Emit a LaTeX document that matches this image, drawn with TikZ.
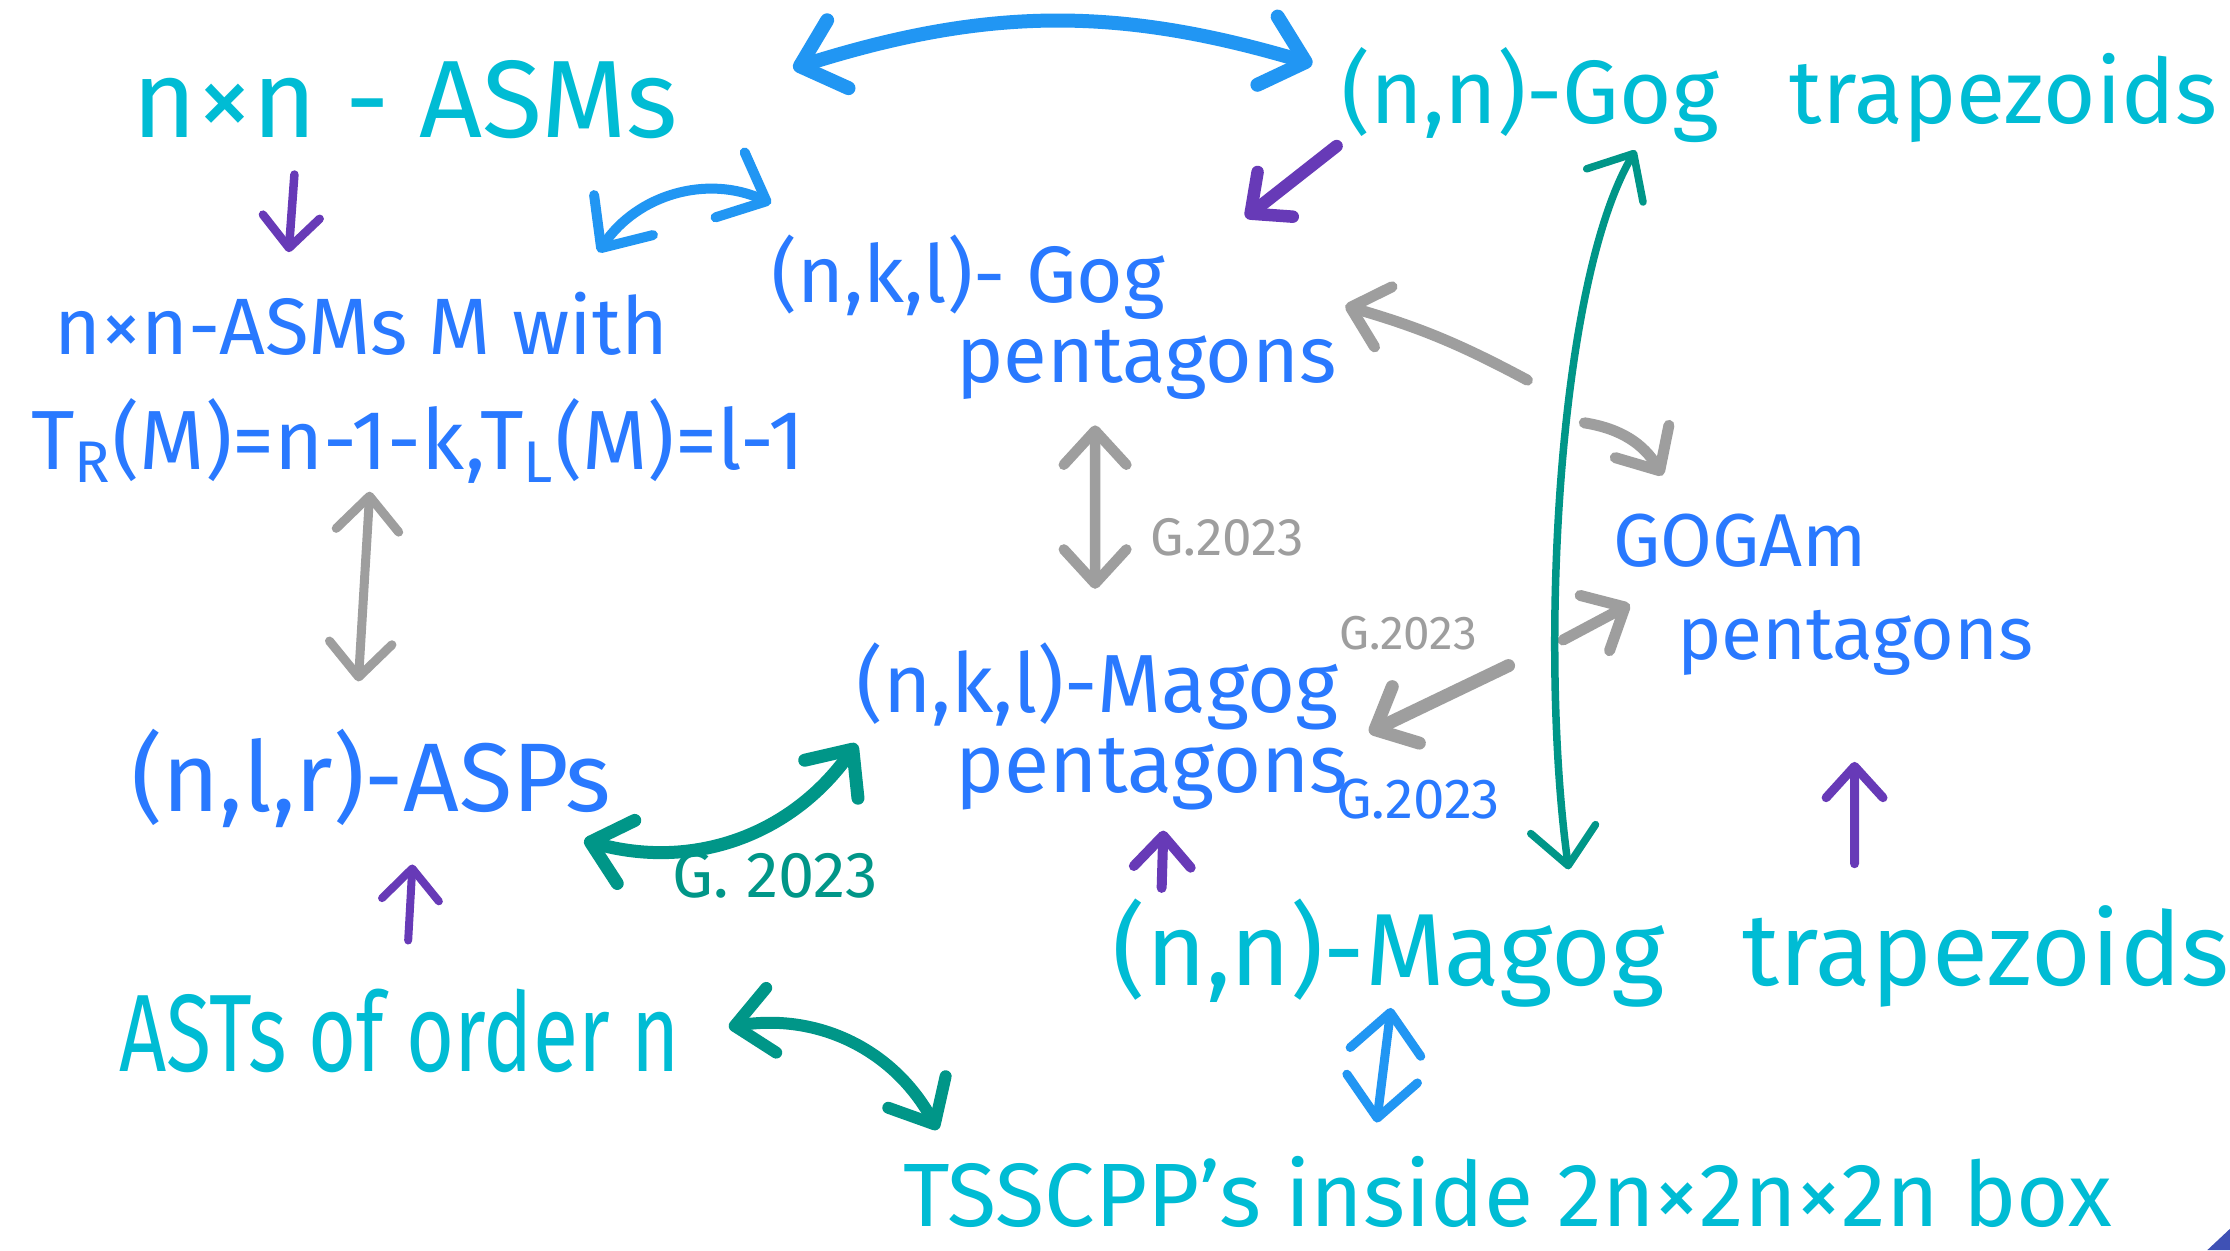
\documentclass[tikz,border=0pt]{standalone}
\usepackage{fontspec}
\setmainfont{Fira Sans}
\usetikzlibrary{arrows.meta,positioning}

\definecolor{asmcyan}{HTML}{00BCD4}
\definecolor{asmblue}{HTML}{2979FF}
\definecolor{linkblue}{HTML}{2196F3}
\definecolor{linkpurple}{HTML}{673AB7}
\definecolor{linkteal}{HTML}{009688}
\definecolor{linkgray}{HTML}{9E9E9E}
\definecolor{cornerindigo}{HTML}{3F51B5}

\tikzstyle{cyanlabel}=[text=asmcyan,inner sep=0pt,align=left]
\tikzstyle{bluelabel}=[text=asmblue,inner sep=0pt,align=left]
\tikzstyle{yearlabel}=[inner sep=0pt]
\tikzstyle{bluelink}=[linkblue,line width=2.2pt,line cap=round,>={Straight Barb[round,length=2.8mm,width=5mm]}]
\tikzstyle{purplelink}=[linkpurple,line width=1.8pt,line cap=round,>={Straight Barb[round,length=2.2mm,width=4mm]}]
\tikzstyle{graylink}=[linkgray,line width=2.2pt,line cap=round,>={Straight Barb[round,length=2.4mm,width=4.4mm]}]
\tikzstyle{teallink}=[linkteal,line width=2.4pt,line cap=round,>={Straight Barb[round,length=2.6mm,width=4.6mm]}]

\begin{document}
\begin{tikzpicture}
%-------------------------page---------------------------------
	\fill[white] (0,0) rectangle (15.68,8.79);
	\useasboundingbox (0,0) rectangle (15.68,8.79);
%-------------------------start label code---------------------
	%Top row
	\node[cyanlabel,minimum width=3.9cm,minimum height=0.6cm,font=\fontsize{22}{22}\selectfont] (asms) at (2.85,8.09) {n×n - ASMs};
	\node[cyanlabel,minimum width=6.07cm,minimum height=0.75cm,font=\fontsize{18}{18}\selectfont] (gogtrap) at (12.51,8.12) {(n,n)-Gog\hspace{0.5cm}trapezoids};
	
	%Left column
	\node[bluelabel,minimum width=4.32cm,minimum height=0.55cm,font=\fontsize{16}{16}\selectfont] (asmsM) at (2.54,6.51) {n×n-ASMs M with};
	\node[bluelabel,minimum width=5.52cm,minimum height=0.6cm,font=\fontsize{16.8}{17}\selectfont] (trtl) at (2.94,5.69) {T\textsubscript{R}(M)=n-1-k,T\textsubscript{L}(M)=l-1};
	\node[bluelabel,minimum width=3.38cm,minimum height=0.55cm,font=\fontsize{19.5}{20}\selectfont] (asps) at (2.61,3.32) {(n,l,r)-ASPs};
	\node[cyanlabel,xscale=0.75,minimum width=5.69cm,minimum height=0.8cm,font=\fontsize{22}{22}\selectfont] (asts) at (2.81,1.54) {ASTs of order n};
	
	%Pentagons
	\node[bluelabel,minimum width=3.87cm,minimum height=1.03cm,font=\fontsize{16}{16}\selectfont] (gogpent) at (7.41,6.56) {(n,k,l)- Gog\\\hspace*{1.3cm}pentagons};
	\node[bluelabel,minimum width=3.5cm,minimum height=1.07cm,font=\fontsize{16.5}{16}\selectfont] (magogpent) at (7.75,3.68) {(n,k,l)-Magog\\\hspace*{0.7cm}pentagons};
	\node[bluelabel,minimum width=2.85cm,minimum height=1.25cm,font=\fontsize{15}{18.5}\selectfont] (gogam) at (12.82,4.61) {GOGAm\\\hspace*{0.45cm}pentagons};
	
	%Bottom row
	\node[cyanlabel,minimum width=7.6cm,minimum height=0.9cm,font=\fontsize{20.5}{21}\selectfont] (magogtrap) at (11.75,2.09) {(n,n)-Magog\hspace{0.55cm}trapezoids};
	\node[cyanlabel,minimum width=8.64cm,minimum height=0.67cm,font=\fontsize{18}{18}\selectfont] (tsscpp) at (10.60,0.41) {TSSCPP's inside 2n×2n×2n box};
	
	%Years
	\node[yearlabel,text=linkgray,font=\fontsize{10.6}{11}\selectfont] (yearA) at (8.63,5.01) {G.2023};
	\node[yearlabel,text=linkgray,font=\fontsize{9.5}{10}\selectfont] (yearB) at (9.90,4.34) {G.2023};
	\node[yearlabel,text=asmblue,font=\fontsize{11.3}{12}\selectfont] (yearC) at (9.97,3.17) {G.2023};
	\node[yearlabel,text=linkteal,font=\fontsize{13}{13}\selectfont] (yearD) at (5.45,2.64) {G. 2023};
%-------------------------end label code-----------------------
%-------------------------start arrow code---------------------
	%Blue arrows
	\path[<->,bluelink,line width=2.8pt] ([shift={(0.77,0.22)}]asms.east) edge [bend left=17] ([shift={(-0.195,0.22)}]gogtrap.west);
	\path[<->,bluelink,line width=2pt] ([shift={(-0.50,0.225)}]asmsM.north east) edge [bend left=40] ([shift={(0.005,0.215)}]gogpent.north west);
	\path[<->,bluelink,line width=1.8pt] ([shift={(-1.97,0.07)}]magogtrap.south) edge ([shift={(-0.92,0.145)}]tsscpp.north);
	
	%Purple arrows
	\path[->,purplelink,line width=1.7pt] ([shift={(-0.78,-0.22)}]asms.south) edge ([shift={(-0.51,0.225)}]asmsM.north);
	\path[->,purplelink,line width=2.5pt] ([shift={(-0.025,0.025)}]gogtrap.south west) edge ([shift={(-0.645,0.115)}]gogpent.north east);
	\path[->,purplelink,line width=1.6pt] ([shift={(0.06,0.23)}]asts.north) edge ([shift={(0.29,-0.255)}]asps.south);
	\path[->,purplelink,line width=2pt] ([shift={(0.35,0)}]magogtrap.north west) edge ([shift={(0.43,-0.135)}]magogpent.south);
	\path[->,purplelink,line width=1.8pt] ([shift={(1.29,0.17)}]magogtrap.north) edge ([shift={(0.22,-0.545)}]gogam.south);
	
	%Gray arrows
	\path[<->,graylink,line width=2.1pt] ([shift={(0.29,-0.175)}]gogpent.south) edge ([shift={(-0.05,0.375)}]magogpent.north);
	\path[<->,graylink,line width=1.8pt] ([shift={(-0.34,-0.05)}]trtl.south) edge ([shift={(-0.09,0.325)}]asps.north);
	\path[->,graylink] ([shift={(-0.595,0.875)}]gogam.north west) edge [bend right=6] ([shift={(0.055,0.08)}]gogpent.east);
	\path[->,graylink] ([shift={(-0.195,0.575)}]gogam.north west) edge [bend left=25] ([shift={(0.355,0.205)}]gogam.north west);
	\path[->,graylink] ([shift={(-0.345,-0.32)}]gogam.west) edge ([shift={(0.125,-0.07)}]gogam.west);
	\path[->,graylink,line width=2.6pt] ([shift={(1.10,0.43)}]magogpent.east) edge ([shift={(0.12,-0.04)}]magogpent.east);
	
	%Teal arrows
	\draw[<->,teallink,line width=1.5pt] ([shift={(-0.72,0.13)}]magogtrap.north) .. controls (10.82,4.2) and (10.95,6.8) .. ([shift={(-1.01,-0.005)}]gogtrap.south);
	\path[<->,teallink,line width=2.6pt] ([shift={(-0.20,-0.085)}]asps.south east) edge [bend right=35] ([shift={(0.03,-0.12)}]magogpent.west);
	\path[<->,teallink] ([shift={(0.175,0.03)}]asts.east) edge [bend left=35] ([shift={(0.32,0.095)}]tsscpp.north west);
%-------------------------end arrow code-----------------------
	\fill[cornerindigo] (15.52,0) -- (15.68,0.15) -- (15.68,0) -- cycle;
\end{tikzpicture}
\end{document}
